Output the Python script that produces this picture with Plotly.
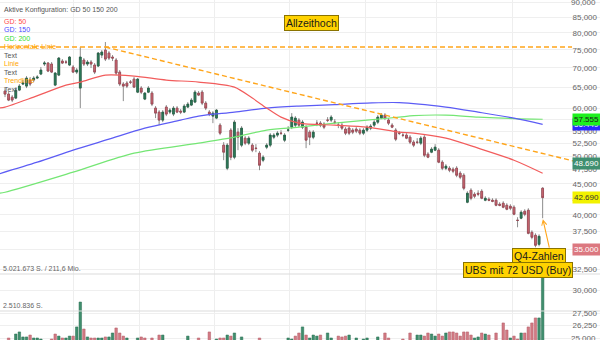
import math
import plotly.graph_objects as go

# ---- daily candles (USD), oldest first ----
opens = [64.08, 63.35, 62.63, 62.39, 64.32, 65.82, 65.31, 66.83, 66.83, 67.34,
         68.38, 71.04, 71.31, 71.04, 65.56, 68.11, 71.86, 71.58, 70.77, 70.23,
         68.90, 64.82, 72.13, 71.04, 71.58, 70.77, 70.50, 73.52, 74.93, 74.08,
         72.96, 72.13, 68.90, 65.82, 66.07, 66.32, 67.08, 63.83, 64.82, 62.15,
         63.83, 63.59, 60.06, 59.15, 57.37, 60.29, 59.15, 58.70, 60.06, 59.37,
         59.15, 60.29, 60.75, 61.45, 63.59, 63.83, 61.21, 59.15, 58.25, 57.81,
         56.28, 52.15, 47.76, 55.22, 49.81, 54.80, 52.15, 53.56, 52.55, 52.15,
         51.55, 50.58, 49.24, 51.75, 52.15, 53.76, 54.18, 54.59, 53.15, 55.22,
         55.85, 56.28, 57.37, 55.85, 55.85, 54.80, 53.76, 56.71, 56.71, 56.50,
         57.37, 57.37, 56.93, 56.28, 56.28, 55.43, 55.64, 55.22, 55.43, 55.22,
         54.59, 55.22, 55.64, 56.28, 56.93, 57.81, 58.47, 57.37, 56.28, 55.22,
         54.59, 54.18, 54.18, 53.76, 52.75, 52.75, 52.55, 53.76, 50.39, 50.77,
         51.16, 51.16, 48.87, 47.76, 47.76, 47.58, 47.76, 46.86, 46.50, 41.95,
         43.91, 43.25, 43.41, 43.74, 42.27, 42.43, 42.27, 42.27, 41.63, 41.79,
         41.47, 41.31, 41.16, 39.17, 39.47, 40.53, 40.69, 37.41, 36.98, 35.73,
         44.25]
highs = [64.82, 63.83, 63.11, 64.82, 65.82, 66.83, 67.85, 67.60, 67.85, 68.11,
         70.23, 71.86, 71.58, 71.58, 68.90, 72.96, 72.40, 72.13, 73.24, 70.77,
         69.96, 75.79, 72.68, 72.13, 72.13, 71.31, 74.36, 74.93, 77.26, 74.64,
         73.52, 72.68, 69.43, 66.32, 66.57, 66.83, 67.60, 67.34, 65.31, 63.83,
         65.31, 64.08, 60.52, 59.60, 59.60, 60.75, 60.06, 60.52, 60.52, 59.83,
         60.98, 61.45, 62.39, 64.32, 64.08, 64.32, 61.68, 59.60, 59.37, 59.83,
         56.71, 52.75, 52.55, 55.64, 57.37, 55.64, 56.07, 53.97, 53.97, 52.55,
         52.35, 50.97, 50.19, 52.55, 54.59, 54.59, 55.01, 55.22, 54.59, 56.07,
         58.92, 58.25, 57.81, 57.37, 56.28, 55.22, 55.22, 57.37, 57.15, 56.93,
         58.03, 58.47, 57.59, 56.93, 56.93, 55.85, 56.07, 55.64, 55.85, 55.64,
         55.64, 56.28, 56.50, 57.37, 58.47, 58.92, 58.92, 57.81, 56.71, 55.64,
         55.01, 54.59, 54.59, 54.18, 53.15, 53.56, 53.97, 54.18, 50.77, 51.75,
         52.35, 51.55, 49.24, 48.50, 48.13, 47.94, 48.13, 47.22, 46.86, 43.74,
         44.25, 43.58, 43.91, 44.08, 42.92, 42.75, 42.59, 42.59, 41.95, 42.11,
         41.79, 41.63, 41.47, 39.62, 40.69, 40.84, 41.00, 37.69, 37.26, 37.12,
         44.42]
lows = [62.63, 61.68, 61.45, 62.15, 64.08, 65.56, 64.82, 65.31, 66.32, 67.08,
        68.11, 70.50, 68.90, 68.64, 65.31, 67.85, 71.04, 71.04, 70.50, 68.64,
        68.38, 60.06, 70.50, 70.50, 69.96, 68.38, 70.23, 72.68, 71.86, 72.13,
        71.86, 68.11, 65.31, 61.68, 64.82, 65.82, 64.82, 63.59, 63.35, 61.92,
        63.59, 60.52, 57.81, 56.28, 56.93, 58.25, 58.70, 58.25, 58.92, 58.70,
        58.92, 60.06, 60.52, 61.21, 62.87, 60.75, 59.60, 58.25, 56.71, 57.59,
        54.18, 49.24, 47.40, 49.24, 49.43, 51.16, 51.75, 52.15, 52.15, 50.77,
        50.77, 47.40, 48.87, 51.36, 51.75, 53.35, 53.76, 54.18, 52.75, 54.80,
        55.43, 55.85, 55.85, 55.43, 51.55, 52.15, 53.35, 56.07, 55.85, 55.43,
        56.93, 56.93, 56.50, 55.64, 55.22, 54.18, 54.18, 54.38, 54.59, 54.18,
        54.18, 54.80, 55.22, 55.85, 56.50, 57.59, 57.37, 56.28, 55.64, 52.95,
        54.18, 53.76, 53.35, 52.35, 51.75, 52.35, 52.15, 49.81, 49.62, 50.58,
        50.97, 48.68, 47.40, 47.40, 47.04, 46.86, 46.15, 45.80, 43.91, 41.79,
        42.27, 42.59, 42.92, 42.43, 42.11, 42.11, 41.95, 41.31, 41.31, 41.00,
        40.69, 40.69, 39.92, 38.13, 39.32, 39.77, 37.12, 36.42, 35.33, 35.46,
        39.47]
closes = [63.35, 61.92, 61.92, 64.32, 65.31, 66.07, 67.34, 65.82, 67.34, 67.60,
          69.43, 71.31, 69.17, 68.90, 68.64, 72.68, 71.31, 71.55, 72.96, 68.90,
          69.43, 72.96, 71.04, 71.58, 71.04, 68.90, 74.08, 74.36, 72.40, 72.68,
          72.68, 68.64, 65.82, 65.31, 65.31, 66.30, 65.06, 67.08, 63.83, 63.59,
          64.82, 60.98, 58.92, 57.37, 59.15, 58.70, 59.60, 60.06, 59.15, 59.15,
          60.52, 60.98, 61.92, 63.83, 63.11, 61.21, 60.06, 58.70, 58.92, 59.60,
          54.59, 50.77, 52.15, 49.81, 56.93, 53.76, 55.64, 52.55, 53.56, 51.16,
          51.50, 48.31, 49.81, 52.15, 54.18, 54.18, 54.59, 54.55, 54.18, 55.25,
          58.03, 57.81, 56.28, 56.93, 53.15, 53.76, 54.80, 56.68, 56.28, 55.85,
          57.35, 58.03, 56.90, 56.25, 55.64, 54.59, 54.59, 54.80, 55.01, 54.59,
          55.22, 55.85, 56.07, 56.93, 58.03, 58.47, 57.81, 56.71, 55.85, 53.35,
          54.55, 54.15, 53.56, 52.75, 52.15, 52.72, 53.56, 50.19, 49.81, 51.36,
          51.75, 48.87, 47.76, 48.13, 47.40, 47.22, 46.50, 46.15, 44.25, 43.41,
          42.59, 42.92, 43.25, 42.59, 42.59, 42.27, 42.11, 41.47, 41.47, 41.16,
          40.84, 41.00, 40.07, 39.14, 40.38, 40.07, 37.26, 36.70, 35.60, 36.84,
          42.69]
volumes = [500000, 680000, 500000, 950000, 1090000, 750000, 750000, 880000, 680000, 680000,
           610000, 500000, 500000, 610000, 950000, 810000, 680000, 680000, 810000, 810000,
           1430000, 3120000, 1290000, 750000, 680000, 680000, 680000, 680000, 750000, 750000,
           1020000, 1360000, 1020000, 810000, 680000, 500000, 500000, 680000, 750000, 680000,
           500000, 680000, 500000, 880000, 880000, 500000, 500000, 500000, 500000, 500000,
           500000, 810000, 500000, 500000, 680000, 500000, 500000, 1090000, 500000, 610000,
           680000, 680000, 880000, 810000, 1020000, 500000, 750000, 500000, 500000, 500000,
           500000, 680000, 500000, 500000, 500000, 500000, 500000, 500000, 500000, 680000,
           610000, 810000, 1020000, 1430000, 880000, 680000, 880000, 810000, 880000, 500000,
           1020000, 680000, 500000, 810000, 750000, 810000, 880000, 500000, 680000, 500000,
           610000, 680000, 500000, 500000, 750000, 500000, 1020000, 680000, 500000, 500000,
           500000, 610000, 500000, 1020000, 500000, 880000, 880000, 810000, 1020000, 950000,
           810000, 950000, 810000, 1020000, 1090000, 1090000, 1020000, 810000, 1090000, 1090000,
           880000, 680000, 750000, 1020000, 950000, 880000, 500000, 1020000, 500000, 1700000,
           1220000, 680000, 810000, 610000, 1020000, 1020000, 1430000, 1700000, 2040000, 2040000,
           6500000]

# ---- moving averages (GD 50 / 150 / 200), sampled at session positions ----
gd50_idx = [-2, 0, 8, 17, 21, 28, 36, 45, 54, 64, 69, 73, 77, 82, 92, 101, 110, 114, 123, 132, 142, 150]
gd50 = [60.06, 60.29, 62.63, 65.56, 66.32, 68.11, 67.85, 66.83, 66.32, 65.06, 62.39,
        60.06, 58.03, 56.71, 56.28, 55.85, 54.80, 54.59, 53.56, 51.55, 49.24, 46.86]
gd150_idx = [-2, 9, 19, 29, 39, 49, 54, 64, 73, 82, 92, 101, 110, 123, 132, 142, 150]
gd150 = [46.68, 48.87, 51.16, 53.35, 55.64, 57.37, 58.25, 59.15, 60.06, 60.52, 60.87,
         61.21, 61.33, 60.29, 59.15, 57.81, 56.449]
gd200_idx = [-2, 0, 19, 36, 54, 64, 73, 82, 92, 101, 110, 114, 123, 132, 142, 150]
gd200 = [43.41, 43.58, 47.04, 50.58, 52.55, 53.76, 55.22, 55.85, 56.71, 57.37, 58.03,
         58.36, 58.47, 58.03, 57.70, 57.555]

# ---- drawn tools ----
horizontal_level = 75.8
horizontal_span = [-1.4, 158.2]
trend_idx = [28, 166]
trend_price = [75.8, 47.9]

# ---- axes ----
x_range = [-1.4, 166.0]
price_range = [24.81, 90.69]
price_ticks = [90, 85, 80, 75, 70, 65, 60, 57.5, 55, 52.5, 50, 47.5, 45,
               42.5, 40, 37.5, 35, 32.5, 30, 27.5, 26.25, 25]
price_tick_labels = ["90,000", "85,000", "80,000", "75,000", "70,000", "65,000",
                     "60,000", "57,500", "55,000", "52,500", "50,000", "47,500",
                     "45,000", "42,500", "40,000", "37,500", "35,000", "32,500",
                     "30,000", "27,500", "26,250", "25,000"]
month_starts = [19, 37.5, 58.5, 79.5, 100.5, 120.5, 141.5]
volume_range = [543000, 23615000]
volume_levels = [5021673, 2510836]
volume_level_labels = ["5.021.673 S. / 211,6 Mio.", "2.510.836 S."]

# price markers on the right edge: (text, value, background, font colour)
price_markers = [
    ("56.449", 56.449, "#2a2aff", "#ffffff"),
    ("57.555", 57.555, "#1ef01e", "#1a1a1a"),
    ("48.690", 48.69, "#3f8f70", "#ffffff"),
    ("42.690", 42.69, "#f2f200", "#333333"),
    ("35.000", 35.0, "#dc7880", "#ffffff"),
]

legend_lines = [
    ("Aktive Konfiguration: GD 50 150 200", "#555555"),
    ("GD: 50", "#ff4a4a"),
    ("GD: 150", "#4a4aff"),
    ("GD: 200", "#2fdc2f"),
    ("Horizontale Linie", "#ffa500"),
    ("Text", "#555555"),
    ("Linie", "#ffa500"),
    ("Text", "#555555"),
    ("Trendlinie", "#ffa500"),
    ("Text", "#555555"),
]

FONT = "Liberation Sans, Arial, sans-serif"
ORANGE = "#ffa51a"
TICK_FONT = dict(family=FONT, size=8, color="#666666")

idx = list(range(len(closes)))
body_hi = [max(o, c) for o, c in zip(opens, closes)]
body_lo = [min(o, c) for o, c in zip(opens, closes)]

# volume colour follows the change versus the previous close
vol_up = [closes[0] >= opens[0]] + [closes[i] >= closes[i - 1] for i in range(1, len(closes))]
vol_fill = ["#3f8e6d" if u else "#d27a84" for u in vol_up]
vol_line = ["#2b6e52" if u else "#b35d67" for u in vol_up]

fig = go.Figure()

# volume (overlay axis)
fig.add_trace(go.Bar(x=idx, y=volumes, yaxis="y2", width=0.7,
                     marker=dict(color=vol_fill, line=dict(color=vol_line, width=0.5)),
                     hoverinfo="skip"))
for lvl in volume_levels:
    fig.add_trace(go.Scatter(x=x_range, y=[lvl, lvl], yaxis="y2", mode="lines",
                             line=dict(color="#dcdcdc", width=1.2), hoverinfo="skip"))

# wicks (grey), then coloured bodies on top
fig.add_trace(go.Candlestick(
    x=idx, open=opens, high=highs, low=lows, close=closes,
    increasing=dict(line=dict(color="#8c8c8c", width=1), fillcolor="#2f7f5c"),
    decreasing=dict(line=dict(color="#8c8c8c", width=1), fillcolor="#cc6b75"),
    hoverinfo="skip"))
fig.add_trace(go.Candlestick(
    x=idx, open=opens, high=body_hi, low=body_lo, close=closes,
    increasing=dict(line=dict(color="#1f5e43", width=0.7), fillcolor="#2f7f5c"),
    decreasing=dict(line=dict(color="#9c4450", width=0.7), fillcolor="#cc6b75"),
    hoverinfo="skip"))

# moving averages
for xs, ys, col in [(gd200_idx, gd200, "#74e674"), (gd150_idx, gd150, "#5c5cf5"),
                    (gd50_idx, gd50, "#f25c5c")]:
    fig.add_trace(go.Scatter(x=xs, y=ys, mode="lines",
                             line=dict(color=col, width=1.2, shape="spline", smoothing=0.8),
                             hoverinfo="skip"))

# horizontal line and trend line
fig.add_trace(go.Scatter(x=horizontal_span, y=[horizontal_level, horizontal_level], mode="lines",
                         line=dict(color=ORANGE, width=1.4, dash="5px,3px"), hoverinfo="skip"))
fig.add_trace(go.Scatter(x=trend_idx, y=trend_price, mode="lines",
                         line=dict(color=ORANGE, width=1.4, dash="5px,3px"), hoverinfo="skip"))

annotations = []
H = 340.0

# the outermost scale labels sit on the plot edge, so they are placed as annotations
edge_ticks = [price_ticks[0], price_ticks[-1]]
axis_text = list(price_tick_labels)
for v in edge_ticks:
    k = price_ticks.index(v)
    annotations.append(dict(xref="paper", yref="y", x=1, xshift=-2, y=math.log10(v),
                            xanchor="right", yanchor="middle", text=axis_text[k],
                            showarrow=False, font=TICK_FONT))
    axis_text[k] = ""

# configuration legend, top left
for k, (txt, col) in enumerate(legend_lines):
    ypx = 10 if k == 0 else 21.5 + (k - 1) * 8.45
    annotations.append(dict(xref="paper", yref="paper", x=0.004, y=1 - ypx / H,
                            xanchor="left", yanchor="middle", text=txt, showarrow=False,
                            font=dict(family=FONT, size=7, color=col)))

# volume level captions
for lvl, txt in zip(volume_levels, volume_level_labels):
    annotations.append(dict(xref="paper", yref="y2", x=0.002, y=lvl, xanchor="left",
                            yanchor="bottom", text=txt, showarrow=False,
                            font=dict(family=FONT, size=7, color="#666666")))

# right-edge price markers
for txt, val, bg, fc in price_markers:
    annotations.append(dict(xref="paper", yref="y", x=572 / 600, y=math.log10(val),
                            xanchor="left", yanchor="middle", text=txt, showarrow=False,
                            bgcolor=bg, borderpad=1,
                            font=dict(family=FONT, size=8, color=fc)))

box_style = dict(showarrow=False, bgcolor="#ffd200", bordercolor="#8a7300", borderwidth=1,
                 borderpad=1, font=dict(family=FONT, size=10.5, color="#1a1a1a"))

last = idx[-1]
annotations.append(dict(xref="x", yref="y", x=85.4, y=math.log10(83.2),
                        text="Allzeithoch", **box_style))
annotations.append(dict(xref="x", yref="y", x=last, y=math.log10(lows[-1]),
                        ax=7, ay=31, text="", showarrow=True, arrowhead=5, arrowsize=0.9,
                        arrowwidth=1.1, arrowcolor=ORANGE, standoff=1))
annotations.append(dict(xref="x", yref="y", x=149.1, y=math.log10(34.14),
                        text="Q4-Zahlen", **box_style))
annotations.append(dict(xref="x", yref="y", x=143.1, y=math.log10(32.43),
                        text="UBS mit 72 USD (Buy)", **box_style))

fig.update_layout(
    width=600, height=340, autosize=False,
    margin=dict(l=0, r=0, t=0, b=0),
    paper_bgcolor="white", plot_bgcolor="white",
    showlegend=False, boxgap=0.3,
    font=dict(family=FONT, size=8, color="#666666"),
    xaxis=dict(range=x_range, showticklabels=False, ticks="", tickvals=month_starts,
               showgrid=True, gridcolor="#eeeeee", gridwidth=1, zeroline=False,
               showline=False, rangeslider=dict(visible=False)),
    yaxis=dict(type="log", range=[math.log10(price_range[0]), math.log10(price_range[1])],
               side="right", ticklabelposition="inside", tickvals=price_ticks,
               ticktext=axis_text, ticks="", showgrid=True, gridcolor="#efefef",
               gridwidth=1, zeroline=False, showline=False, tickfont=TICK_FONT),
    yaxis2=dict(overlaying="y", range=volume_range, visible=False, showgrid=False),
    annotations=annotations,
)

fig.write_html("out.html")
